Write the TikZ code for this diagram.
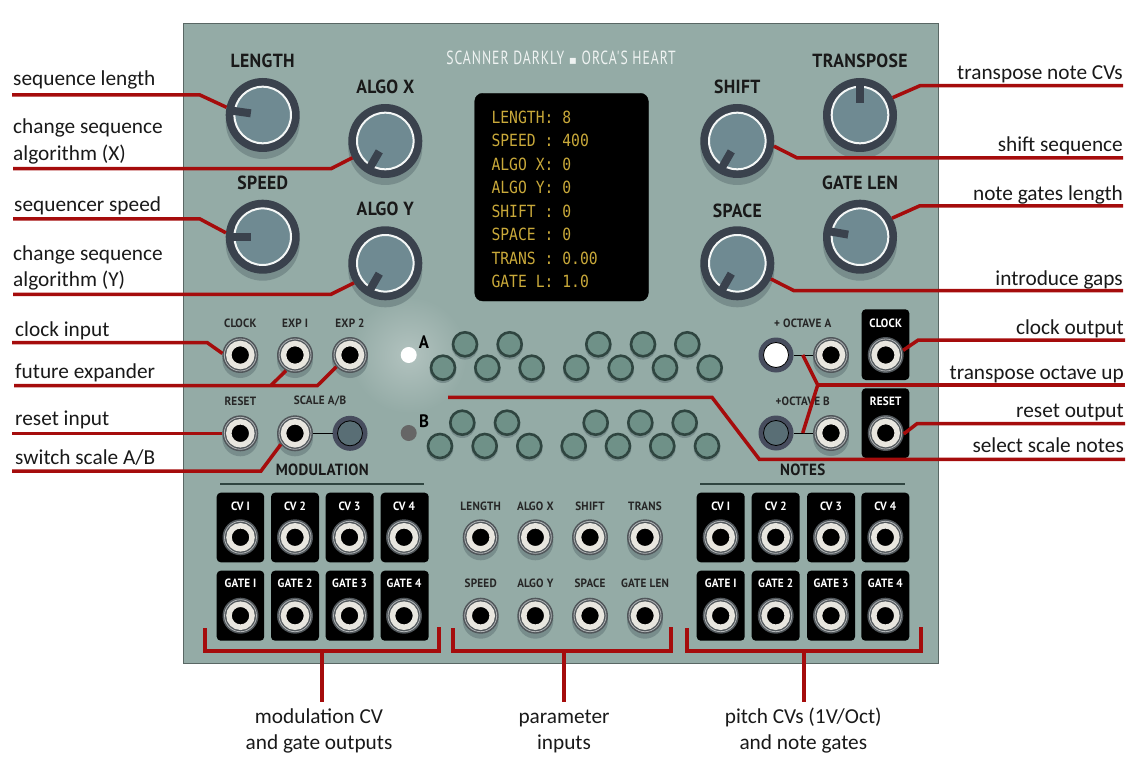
\documentclass[tikz,border=0pt]{standalone}
\usepackage{fontspec}
\setmainfont{Carlito}
\newfontfamily\panelfont[FakeStretch=0.93,LetterSpace=2]{PT Sans}
\newfontfamily\titlefont[FakeStretch=0.72,LetterSpace=5]{PT Sans}
\newfontfamily\screenfont[FakeStretch=0.875]{DejaVu Sans Mono}
\newfontfamily\symbolfont{DejaVu Sans}

\begin{document}
\begin{tikzpicture}[x=1pt, y=-1pt,
        leader/.style={draw=leadercolor, line width=3.5pt, line join=miter},
        stem/.style={draw=leadercolor, line width=4pt},
        note/.style={font=\fontsize{21.3}{21.3}\selectfont, inner sep=0pt, text=black!90},
        bigtag/.style={font=\fontsize{19}{19}\panelfont\bfseries, text=black!90},
        smalltag/.style={font=\fontsize{12}{12}\panelfont\bfseries, text=black!85},
        boxtag/.style={font=\fontsize{12}{12}\panelfont\bfseries, text=white},
        knobbody/.style={circle, fill=knobring, minimum size=74pt, inner sep=0pt, outer sep=0pt},
        jackbody/.style={circle, fill=jackring, minimum size=36pt, inner sep=0pt, outer sep=0pt},
        btnbody/.style={circle, fill=btnring, minimum size=35pt, inner sep=0pt, outer sep=0pt},
        blackbox/.style={fill=black, rounded corners=4pt},
    ]
    \definecolor{panelcolor}{HTML}{94ABA6}
    \definecolor{leadercolor}{HTML}{A50C0C}
    \definecolor{knobring}{HTML}{3A424D}
    \definecolor{knobface}{HTML}{6F8A92}
    \definecolor{jackring}{HTML}{50565A}
    \definecolor{jackwhite}{HTML}{E8E6DF}
    \definecolor{btnring}{HTML}{474D5E}
    \definecolor{stepcolor}{HTML}{6F9188}
    \definecolor{stepring}{HTML}{2F4540}
    \definecolor{shadowcolor}{HTML}{788D8C}
    \definecolor{screencolor}{HTML}{C9A93A}

    \useasboundingbox (0, 0) rectangle (1134, 759);

    % --- Panel ---
    \draw[fill=panelcolor, draw=black!40!panelcolor, line width=1pt] (183, 24) rectangle (938, 663);
    \shade[inner color=panelcolor!72!white, outer color=panelcolor] (408.7, 355) circle (58);
    \node[font=\fontsize{19}{19}\titlefont, text=white!85!panelcolor] (title) at (561, 58) {SCANNER DARKLY {\symbolfont\fontsize{12}{12}\selectfont ▪} ORCA'S HEART};

    % --- Screen ---
    \draw[fill=black, rounded corners=8pt] (474.7, 93.3) rectangle (648.3, 301);
    \foreach \i/\txt in {0/LENGTH: 8, 1/SPEED : 400, 2/ALGO X: 0, 3/ALGO Y: 0, 4/SHIFT : 0, 5/SPACE : 0, 6/TRANS : 0.00, 7/GATE L: 1.0} {
        \node[anchor=west, inner sep=0pt, text=screencolor, font=\fontsize{16.8}{16.8}\screenfont] (line\i) at (491.3, 117.3+23.5*\i) {\txt};
    }

    % --- Knobs ---
    \foreach \nm/\x/\y/\a/\ly/\lab in {len/262.7/115/172/61/LENGTH, algx/385.3/141/240/87/ALGO X, spd/262.7/236.7/180/183/SPEED, algy/385.3/263.3/240/209/ALGO Y,
        trn/860/115/90/60.7/TRANSPOSE, shf/737.3/141/240/87/SHIFT, gat/860/236.7/170/183/GATE LEN, spc/737.3/263.3/240/211/SPACE} {
        \fill[shadowcolor] (\x, \y+7) circle (37);
        \node[knobbody] (knob\nm) at (\x, \y) {};
        \draw[fill=knobface, draw=white!90!panelcolor, line width=2pt] (\x, \y) circle (28.3);
        \draw[knobring, line width=8pt] ({\x+12*cos(\a)}, {\y-12*sin(\a)}) -- ({\x+31*cos(\a)}, {\y-31*sin(\a)});
        \node[bigtag] (tag\nm) at (\x, \ly) {\lab};
    }

    % --- Black boxes ---
    \foreach \x/\y/\w/\h in {216.7/492.7/47.5/69.6, 271/492.7/48/69.6, 325.7/492.7/48/69.6, 380.7/492.7/48/69.6,
        216.7/570.7/47.5/70, 271/570.7/48/70, 325.7/570.7/48/70, 380.7/570.7/48/70,
        696.7/492.7/48/69.6, 751.7/492.7/48/69.6, 807/492.7/48/69.6, 861.3/492.7/48/69.6,
        696.7/570.7/48/70, 751.7/570.7/48/70, 807/570.7/48/70, 861.3/570.7/48/70,
        861.7/309.3/47.6/70.7, 861.7/388.3/47.6/69.7} {
        \fill[blackbox] (\x, \y) rectangle (\x+\w, \y+\h);
    }

    % --- Jacks on the panel (with shadow) ---
    \foreach \nm/\x/\y in {clk/240.3/355, expa/295/355, expb/350/355, rst/240.3/433.3, scl/295/433.3, octa/831/355, octb/831/433,
        plen/480.7/537.3, palx/535.3/537.3, pshf/590/537.3, ptrn/645/537.3, pspd/480.7/615.7, paly/535.3/615.7, pspc/590/615.7, pgat/645/615.7} {
        \fill[shadowcolor] (\x, \y+5) circle (18);
    }
    % --- All jacks ---
    \foreach \nm/\x/\y in {clk/240.3/355, expa/295/355, expb/350/355, rst/240.3/433.3, scl/295/433.3, octa/831/355, octb/831/433,
        plen/480.7/537.3, palx/535.3/537.3, pshf/590/537.3, ptrn/645/537.3, pspd/480.7/615.7, paly/535.3/615.7, pspc/590/615.7, pgat/645/615.7,
        mca/240.5/537.3, mcb/295/537.3, mcc/349.5/537.3, mcd/404/537.3, mga/240.5/615.7, mgb/295/615.7, mgc/349.5/615.7, mgd/404/615.7,
        nca/720.7/537.3, ncb/775.7/537.3, ncc/831/537.3, ncd/885.3/537.3, nga/720.7/615.7, ngb/775.7/615.7, ngc/831/615.7, ngd/885.3/615.7,
        oclk/885.7/355, orst/885.7/433} {
        \node[jackbody] (jack\nm) at (\x, \y) {};
        \draw[draw=white!55!jackring, line width=0.8pt] (\x, \y) circle (16);
        \draw[fill=black, draw=jackwhite, line width=5.5pt] (\x, \y) circle (11.5);
    }

    % --- Small labels ---
    \foreach \nm/\x/\y/\lab in {clk/240.3/323.5/CLOCK, expa/295/323.5/EXP I, expb/350/323.5/EXP 2, rst/240.3/401.5/RESET, scl/320/401/{SCALE A/B},
        octa/802.7/323.5/+ OCTAVE A, octb/802.7/401.5/+OCTAVE B,
        plen/480.7/506/LENGTH, palx/535.3/506/ALGO X, pshf/590/506/SHIFT, ptrn/645/506/TRANS,
        pspd/480.7/583.5/SPEED, paly/535.3/583.5/ALGO Y, pspc/590/583.5/SPACE, pgat/645/583.5/GATE LEN} {
        \node[smalltag] (lab\nm) at (\x, \y) {\lab};
    }
    \foreach \nm/\x/\y/\lab in {oclk/885.7/323.5/CLOCK, orst/885.7/401.5/RESET,
        mca/240.5/506/CV I, mcb/295/506/CV 2, mcc/349.5/506/CV 3, mcd/404/506/CV 4,
        mga/240.5/583.5/GATE I, mgb/295/583.5/GATE 2, mgc/349.5/583.5/GATE 3, mgd/404/583.5/GATE 4,
        nca/720.7/506/CV I, ncb/775.7/506/CV 2, ncc/831/506/CV 3, ncd/885.3/506/CV 4,
        nga/720.7/583.5/GATE I, ngb/775.7/583.5/GATE 2, ngc/831/583.5/GATE 3, ngd/885.3/583.5/GATE 4} {
        \node[boxtag] (lab\nm) at (\x, \y) {\lab};
    }

    % Section titles
    \node[font=\fontsize{16.2}{16.2}\panelfont\bfseries, text=black!90] (modtitle) at (322.3, 470) {MODULATION};
    \node[font=\fontsize{16.2}{16.2}\panelfont\bfseries, text=black!90] (notestitle) at (802.7, 470) {NOTES};
    \draw[stepring, line width=1.3pt] (220, 484) -- (424.3, 484);
    \draw[stepring, line width=1.3pt] (700, 484) -- (905, 484);

    % --- Buttons and their links ---
    \node[btnbody] (btnscl) at (350, 433.3) {};
    \node[btnbody] (btna) at (776, 355) {};
    \node[btnbody] (btnb) at (776, 433) {};
    \draw[black, line width=1pt] (jackscl) -- (btnscl);
    \draw[black, line width=1pt] (btna) -- (jackocta);
    \draw[black, line width=1pt] (btnb) -- (jackoctb);
    \draw[fill=white, draw=black, line width=0.8pt] (776, 355) circle (12.5);
    \draw[fill=knobface!80!black, draw=black, line width=0.8pt] (776, 433) circle (12.5);
    \draw[fill=knobface!80!black, draw=black, line width=0.8pt] (350, 433.3) circle (12.5);

    % --- LEDs ---
    \node[circle, fill=white, minimum size=16pt, inner sep=0pt] (leda) at (408.7, 355) {};
    \node[circle, fill=black!60, minimum size=16pt, inner sep=0pt] (ledb) at (408.7, 433) {};
    \node[font=\fontsize{18}{18}\panelfont\bfseries, text=black] (taga) at (424, 342.5) {A};
    \node[font=\fontsize{18}{18}\panelfont\bfseries, text=black] (tagb) at (424, 421) {B};

    % --- Scale note steps ---
    \foreach \x/\y in {465/344.3, 509.7/344.3, 598.3/344.3, 643/344.3, 687.3/344.3,
        443/367.7, 487.3/367.7, 531.7/367.7, 576.3/367.7, 620.7/367.7, 665/367.7, 709.7/367.7,
        462.3/422.7, 507/422.7, 595.7/422.7, 640.3/422.7, 684.7/422.7,
        440/446, 484.7/446, 529.3/446, 573.7/446, 618/446, 662.3/446, 707/446} {
        \fill[shadowcolor] (\x, \y+2) circle (13.3);
        \draw[fill=stepcolor, draw=stepring, line width=2.6pt] (\x, \y) circle (12);
    }

    % --- Annotations, left side ---
    \node[note, anchor=base west] (nlen) at (13, 86) {sequence length};
    \node[note, anchor=base west] (nalx) at (13, 134) {change sequence};
    \node[note, anchor=base west] (nalxb) at (13, 160.7) {algorithm (X)};
    \node[note, anchor=base west] (nspd) at (14, 211.7) {sequencer speed};
    \node[note, anchor=base west] (naly) at (13, 260) {change sequence};
    \node[note, anchor=base west] (nalyb) at (13, 286.7) {algorithm (Y)};
    \node[note, anchor=base west] (nclk) at (15, 336) {clock input};
    \node[note, anchor=base west] (nexp) at (15, 378) {future expander};
    \node[note, anchor=base west] (nrst) at (15, 425.5) {reset input};
    \node[note, anchor=base west] (nscl) at (15, 464) {switch scale A/B};

    % --- Annotations, right side ---
    \node[note, anchor=base east] (ntrn) at (1123, 79.3) {transpose note CVs};
    \node[note, anchor=base east] (nshf) at (1123, 152) {shift sequence};
    \node[note, anchor=base east] (ngat) at (1123, 200.7) {note gates length};
    \node[note, anchor=base east] (nspc) at (1123, 285) {introduce gaps};
    \node[note, anchor=base east] (noclk) at (1124, 334) {clock output};
    \node[note, anchor=base east] (noct) at (1124, 379) {transpose octave up};
    \node[note, anchor=base east] (norst) at (1124, 417) {reset output};
    \node[note, anchor=base east] (nsel) at (1124, 452.5) {select scale notes};

    % --- Annotations, bottom ---
    \node[note, anchor=base] (nmoda) at (319, 723.5) {modulation CV};
    \node[note, anchor=base] (nmodb) at (319, 749.5) {and gate outputs};
    \node[note, anchor=base] (npara) at (564, 723.5) {parameter};
    \node[note, anchor=base] (nparb) at (564, 749.5) {inputs};
    \node[note, anchor=base] (npita) at (803.3, 723.5) {pitch CVs (1V/Oct)};
    \node[note, anchor=base] (npitb) at (803.3, 749.5) {and note gates};

    % --- Leaders, left ---
    \coordinate (lelen) at (12, 95);
    \coordinate (lealx) at (13, 168.7);
    \coordinate (lespd) at (13, 219);
    \coordinate (lealy) at (13, 294.3);
    \coordinate (leclk) at (12, 342.7);
    \coordinate (leexp) at (14, 385.7);
    \coordinate (lerst) at (12, 433.3);
    \coordinate (lescl) at (12, 471);
    \draw[leader] (lelen) -- (200, 95) -- (knoblen.168);
    \draw[leader] (lealx) -- (331, 168.7) -- (knobalgx.207);
    \draw[leader] (lespd) -- (200, 219) -- (knobspd.174);
    \draw[leader] (lealy) -- (331, 294.3) -- (knobalgy.212);
    \draw[leader] (leclk) -- (207.3, 342.7) -- (jackclk.175);
    \draw[leader] (leexp) -- (317.3, 385.7) -- (jackexpb.221);
    \coordinate (expjoin) at (270.7, 385.7);
    \draw[leader] (expjoin) -- (jackexpa.240);
    \draw[leader] (lerst) -- (jackrst.180);
    \draw[leader] (lescl) -- (261, 471) -- (jackscl.218);

    % --- Leaders, right ---
    \coordinate (retrn) at (1123, 85.7);
    \coordinate (reshf) at (1123, 158);
    \coordinate (regat) at (1123, 206);
    \coordinate (respc) at (1123, 290.7);
    \coordinate (reclk) at (1125, 340);
    \coordinate (reoct) at (1125, 385);
    \coordinate (rerst) at (1125, 423.7);
    \coordinate (resel) at (1125, 459.3);
    \draw[leader] (retrn) -- (920, 85.7) -- (knobtrn.28);
    \draw[leader] (reshf) -- (797.3, 158) -- (knobshf.-8);
    \draw[leader] (regat) -- (919.3, 206) -- (knobgat.30);
    \draw[leader] (respc) -- (794, 290.7) -- (knobspc.-25);
    \draw[leader] (reclk) -- (918.3, 340) -- (jackoclk.15);
    \draw[leader] (rerst) -- (917, 423.7) -- (jackorst.-3);
    \coordinate (octup) at (802.7, 355);
    \coordinate (octdown) at (802.7, 433);
    \draw[leader] (octup) -- (817.7, 385) -- (octdown);
    \draw[leader] (reoct) -- (817.7, 385);
    \coordinate (selstart) at (448, 397.3);
    \draw[leader] (selstart) -- (712, 397.3) -- (759.3, 459.3) -- (resel);

    % --- Brackets, bottom ---
    \foreach \a/\b/\c in {205/439/322.3, 453.3/670.7/564, 686.7/921/804} {
        \draw[leader, line width=4pt] (\a, 628) -- (\a, 650.7) -- (\b, 650.7) -- (\b, 626.5);
        \draw[stem] (\c, 650.7) -- (\c, 701.7);
    }
\end{tikzpicture}
\end{document}
